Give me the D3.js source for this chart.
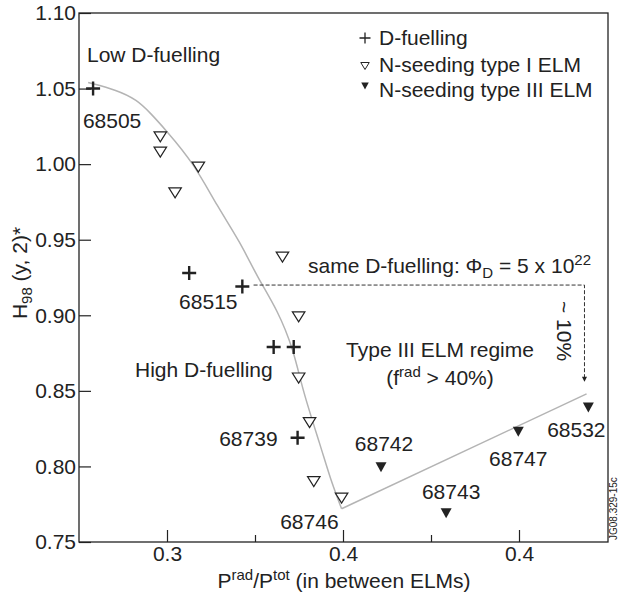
<!DOCTYPE html>
<html>
<head>
<meta charset="utf-8">
<script src="https://cdn.jsdelivr.net/npm/d3@7"></script>
<style>
  html, body { margin: 0; padding: 0; background: #fff; }
  svg { display: block; }
  text { font-family: "Liberation Sans", Arial, Helvetica, sans-serif; fill: #222; }
</style>
</head>
<body>
<svg id="chart" width="618" height="598"></svg>
<script>
// ---- data ----
// D-fuelling shots (plus markers)
const dFuelX = [0.2790, 0.3063, 0.3214, 0.3303, 0.3360, 0.3371];
const dFuelY = [1.050, 0.928, 0.919, 0.879, 0.879, 0.819];
const dFuelShot = ["68505", "", "68515", "", "", "68739"];

// N-seeding with type I ELMs (open triangles)
const typeIX = [0.2981, 0.2981, 0.3089, 0.3023, 0.3328, 0.3374, 0.3374, 0.3405, 0.3417, 0.3496];
const typeIY = [1.018, 1.008, 0.998, 0.981, 0.9385, 0.899, 0.8585, 0.829, 0.790, 0.779];
const typeIShot = ["", "", "", "", "", "", "", "", "", "68746"];

// N-seeding with type III ELMs (filled triangles)
const typeIIIX = [0.3608, 0.3793, 0.3998, 0.4197];
const typeIIIY = [0.7995, 0.769, 0.823, 0.839];
const typeIIIShot = ["68742", "68743", "68747", "68532"];

// trend through the type I / D-fuelling points (smoothed as a B-spline)
const fitX = [0.2776, 0.2858, 0.2915, 0.2952, 0.2995, 0.3075, 0.3143, 0.3209, 0.3257, 0.3314, 0.3360, 0.3385, 0.3437, 0.3465, 0.3496];
const fitY = [1.054, 1.049, 1.0425, 1.034, 1.023, 1.001, 0.972, 0.948, 0.925, 0.9035, 0.877, 0.8505, 0.813, 0.791, 0.772];
// trend through the type III regime
const regimeX = [0.3496, 0.4192];
const regimeY = [0.772, 0.848];

// same D-fuelling reference level and the drop it marks
const sameFuelY = 0.920;
const sameFuelX = [0.3246, 0.4186];
const dropToY = 0.856;

// axes
const yTicks = [0.75, 0.80, 0.85, 0.90, 0.95, 1.00, 1.05, 1.10];
const yTickLabels = ["0.75", "0.80", "0.85", "0.90", "0.95", "1.00", "1.05", "1.10"];
const xTicks = [0.30, 0.35, 0.40];
const xTickLabels = ["0.3", "0.4", "0.4"];
const xMinorTicks = [0.325, 0.375];

// ---- layout ----
const svg = d3.select("#chart");
const plotL = 79, plotR = 608, plotT = 13, plotB = 542;
const x = d3.scaleLinear().domain([0.275, 0.425]).range([plotL, plotR - 1]);
const y = d3.scaleLinear().domain([0.75, 1.10]).range([plotB, plotT]);
const ink = "#222";

// axes with inward ticks
const gy = svg.append("g").attr("transform", `translate(${plotL},0)`)
  .call(d3.axisLeft(y).tickValues(yTicks).tickSize(-12).tickSizeOuter(0).tickPadding(3)
    .tickFormat((d, i) => yTickLabels[i]));
const gx = svg.append("g").attr("transform", `translate(0,${plotB})`)
  .call(d3.axisBottom(x).tickValues(xTicks).tickSize(-12).tickSizeOuter(0).tickPadding(4)
    .tickFormat((d, i) => xTickLabels[i]));
const gxm = svg.append("g").attr("transform", `translate(0,${plotB})`)
  .call(d3.axisBottom(x).tickValues(xMinorTicks).tickSize(-7).tickSizeOuter(0).tickFormat(""));
[gy, gx, gxm].forEach(g => {
  g.select(".domain").remove();
  g.selectAll(".tick line").attr("stroke", ink).attr("stroke-width", 1.2);
  g.selectAll(".tick text").style("font-size", "21px").attr("fill", ink)
    .style("font-family", '"Liberation Sans", Arial, sans-serif');
});

// frame
svg.append("rect").attr("x", plotL).attr("y", plotT)
  .attr("width", plotR - plotL).attr("height", plotB - plotT)
  .attr("fill", "none").attr("stroke", ink).attr("stroke-width", 1.3);

// trend lines
const fitData = fitX.map((v, i) => [v, fitY[i]]);
const regimeData = regimeX.map((v, i) => [v, regimeY[i]]);
svg.append("path").datum(fitData)
  .attr("d", d3.line().x(d => x(d[0])).y(d => y(d[1])).curve(d3.curveBasis))
  .attr("fill", "none").attr("stroke", "#b4b4b4").attr("stroke-width", 1.5);
svg.append("path").datum(regimeData)
  .attr("d", d3.line().x(d => x(d[0])).y(d => y(d[1])))
  .attr("fill", "none").attr("stroke", "#b4b4b4").attr("stroke-width", 1.5);

// dashed reference level and drop arrow
svg.append("path")
  .attr("d", d3.line()([[x(sameFuelX[0]), y(sameFuelY)], [x(sameFuelX[1]), y(sameFuelY)], [x(sameFuelX[1]), y(dropToY) - 4]]))
  .attr("fill", "none").attr("stroke", "#333").attr("stroke-width", 1).attr("stroke-dasharray", "4,2");
svg.append("path")
  .attr("d", `M${x(sameFuelX[1]) - 2.5},${y(dropToY) - 5} L${x(sameFuelX[1]) + 2.5},${y(dropToY) - 5} L${x(sameFuelX[1])},${y(dropToY)} Z`)
  .attr("fill", "#222");

// markers
const tri = (w, h) => `M${-w / 2},${-h / 2} L${w / 2},${-h / 2} L0,${h / 2} Z`;
const plus = s => `M${-s / 2},0 L${s / 2},0 M0,${-s / 2} L0,${s / 2}`;

svg.append("g").selectAll("path").data(typeIX.map((v, i) => [v, typeIY[i]])).join("path")
  .attr("transform", d => `translate(${x(d[0])},${y(d[1])})`)
  .attr("d", tri(12.5, 10)).attr("fill", "#fff").attr("stroke", ink).attr("stroke-width", 1.2);
svg.append("g").selectAll("path").data(typeIIIX.map((v, i) => [v, typeIIIY[i]])).join("path")
  .attr("transform", d => `translate(${x(d[0])},${y(d[1])})`)
  .attr("d", tri(11, 10)).attr("fill", ink);
svg.append("g").selectAll("path").data(dFuelX.map((v, i) => [v, dFuelY[i]])).join("path")
  .attr("transform", d => `translate(${x(d[0])},${y(d[1])})`)
  .attr("d", plus(14)).attr("stroke", ink).attr("stroke-width", 2.4);

// shot number labels (offsets in px from the marker)
const labelFont = "21px";
function shotLabels(xs, ys, names, offsets) {
  names.forEach((n, i) => {
    if (!n) return;
    const o = offsets[n];
    svg.append("text").attr("x", x(xs[i]) + o[0]).attr("y", y(ys[i]) + o[1])
      .attr("text-anchor", o[2]).style("font-size", labelFont).text(n);
  });
}
const offs = {
  "68505": [19, 39, "middle"], "68515": [-34, 22, "middle"], "68739": [-20, 8, "end"],
  "68746": [-3, 31, "end"], "68742": [3, -16, "middle"], "68743": [5, -14, "middle"],
  "68747": [0, 34, "middle"], "68532": [-12, 30, "middle"]
};
shotLabels(dFuelX, dFuelY, dFuelShot, offs);
shotLabels(typeIX, typeIY, typeIShot, offs);
shotLabels(typeIIIX, typeIIIY, typeIIIShot, offs);

// region annotations
svg.append("text").attr("x", 87).attr("y", 62).style("font-size", "21px").text("Low D-fuelling");
svg.append("text").attr("x", 135).attr("y", 377).style("font-size", "21px").text("High D-fuelling");
svg.append("text").attr("x", 440).attr("y", 357).attr("text-anchor", "middle").style("font-size", "21px").text("Type III ELM regime");
const fr = svg.append("text").attr("x", 440).attr("y", 385).attr("text-anchor", "middle").style("font-size", "21px");
fr.append("tspan").text("(f");
fr.append("tspan").attr("dy", -8).style("font-size", "15px").text("rad");
fr.append("tspan").attr("dy", 8).text(" > 40%)");

const sf = svg.append("text").attr("x", 308).attr("y", 273).style("font-size", "21px");
sf.append("tspan").text("same D-fuelling: \u03A6");
sf.append("tspan").attr("dy", 5).style("font-size", "15px").text("D");
sf.append("tspan").attr("dy", -5).text(" = 5 x 10");
sf.append("tspan").attr("dy", -8).style("font-size", "15px").text("22");

svg.append("text").attr("transform", "translate(557,331) rotate(90)")
  .attr("text-anchor", "middle").style("font-size", "21px").text("~ 10%");

// legend
const lg = svg.append("g");
lg.append("path").attr("transform", "translate(365,38)").attr("d", plus(11)).attr("stroke", ink).attr("stroke-width", 1.3);
lg.append("path").attr("transform", "translate(365,66)").attr("d", tri(8.5, 7)).attr("fill", "#fff").attr("stroke", ink).attr("stroke-width", 1);
lg.append("path").attr("transform", "translate(365,86)").attr("d", tri(7.5, 7)).attr("fill", ink);
const legendNames = ["D-fuelling", "N-seeding type I ELM", "N-seeding type III ELM"];
const legendBase = [45, 72, 97];
legendNames.forEach((n, i) => {
  lg.append("text").attr("x", 379).attr("y", legendBase[i]).style("font-size", "21px").text(n);
});

// axis titles
const yt = svg.append("text").attr("transform", "translate(27,273) rotate(-90)")
  .attr("text-anchor", "middle").style("font-size", "21px");
yt.append("tspan").text("H");
yt.append("tspan").attr("dy", 5).style("font-size", "15px").text("98");
yt.append("tspan").attr("dy", -5).text(" (y, 2)*");

const xt = svg.append("text").attr("x", 344).attr("y", 588).attr("text-anchor", "middle").style("font-size", "21px");
xt.append("tspan").text("P");
xt.append("tspan").attr("dy", -8).style("font-size", "15px").text("rad");
xt.append("tspan").attr("dy", 8).text("/P");
xt.append("tspan").attr("dy", -8).style("font-size", "15px").text("tot");
xt.append("tspan").attr("dy", 8).text(" (in between ELMs)");

// figure id along the right edge
svg.append("text").attr("transform", "translate(617,540) rotate(-90)")
  .style("font-size", "10px").attr("fill", "#444").text("JG08.329-15c");
</script>
</body>
</html>
